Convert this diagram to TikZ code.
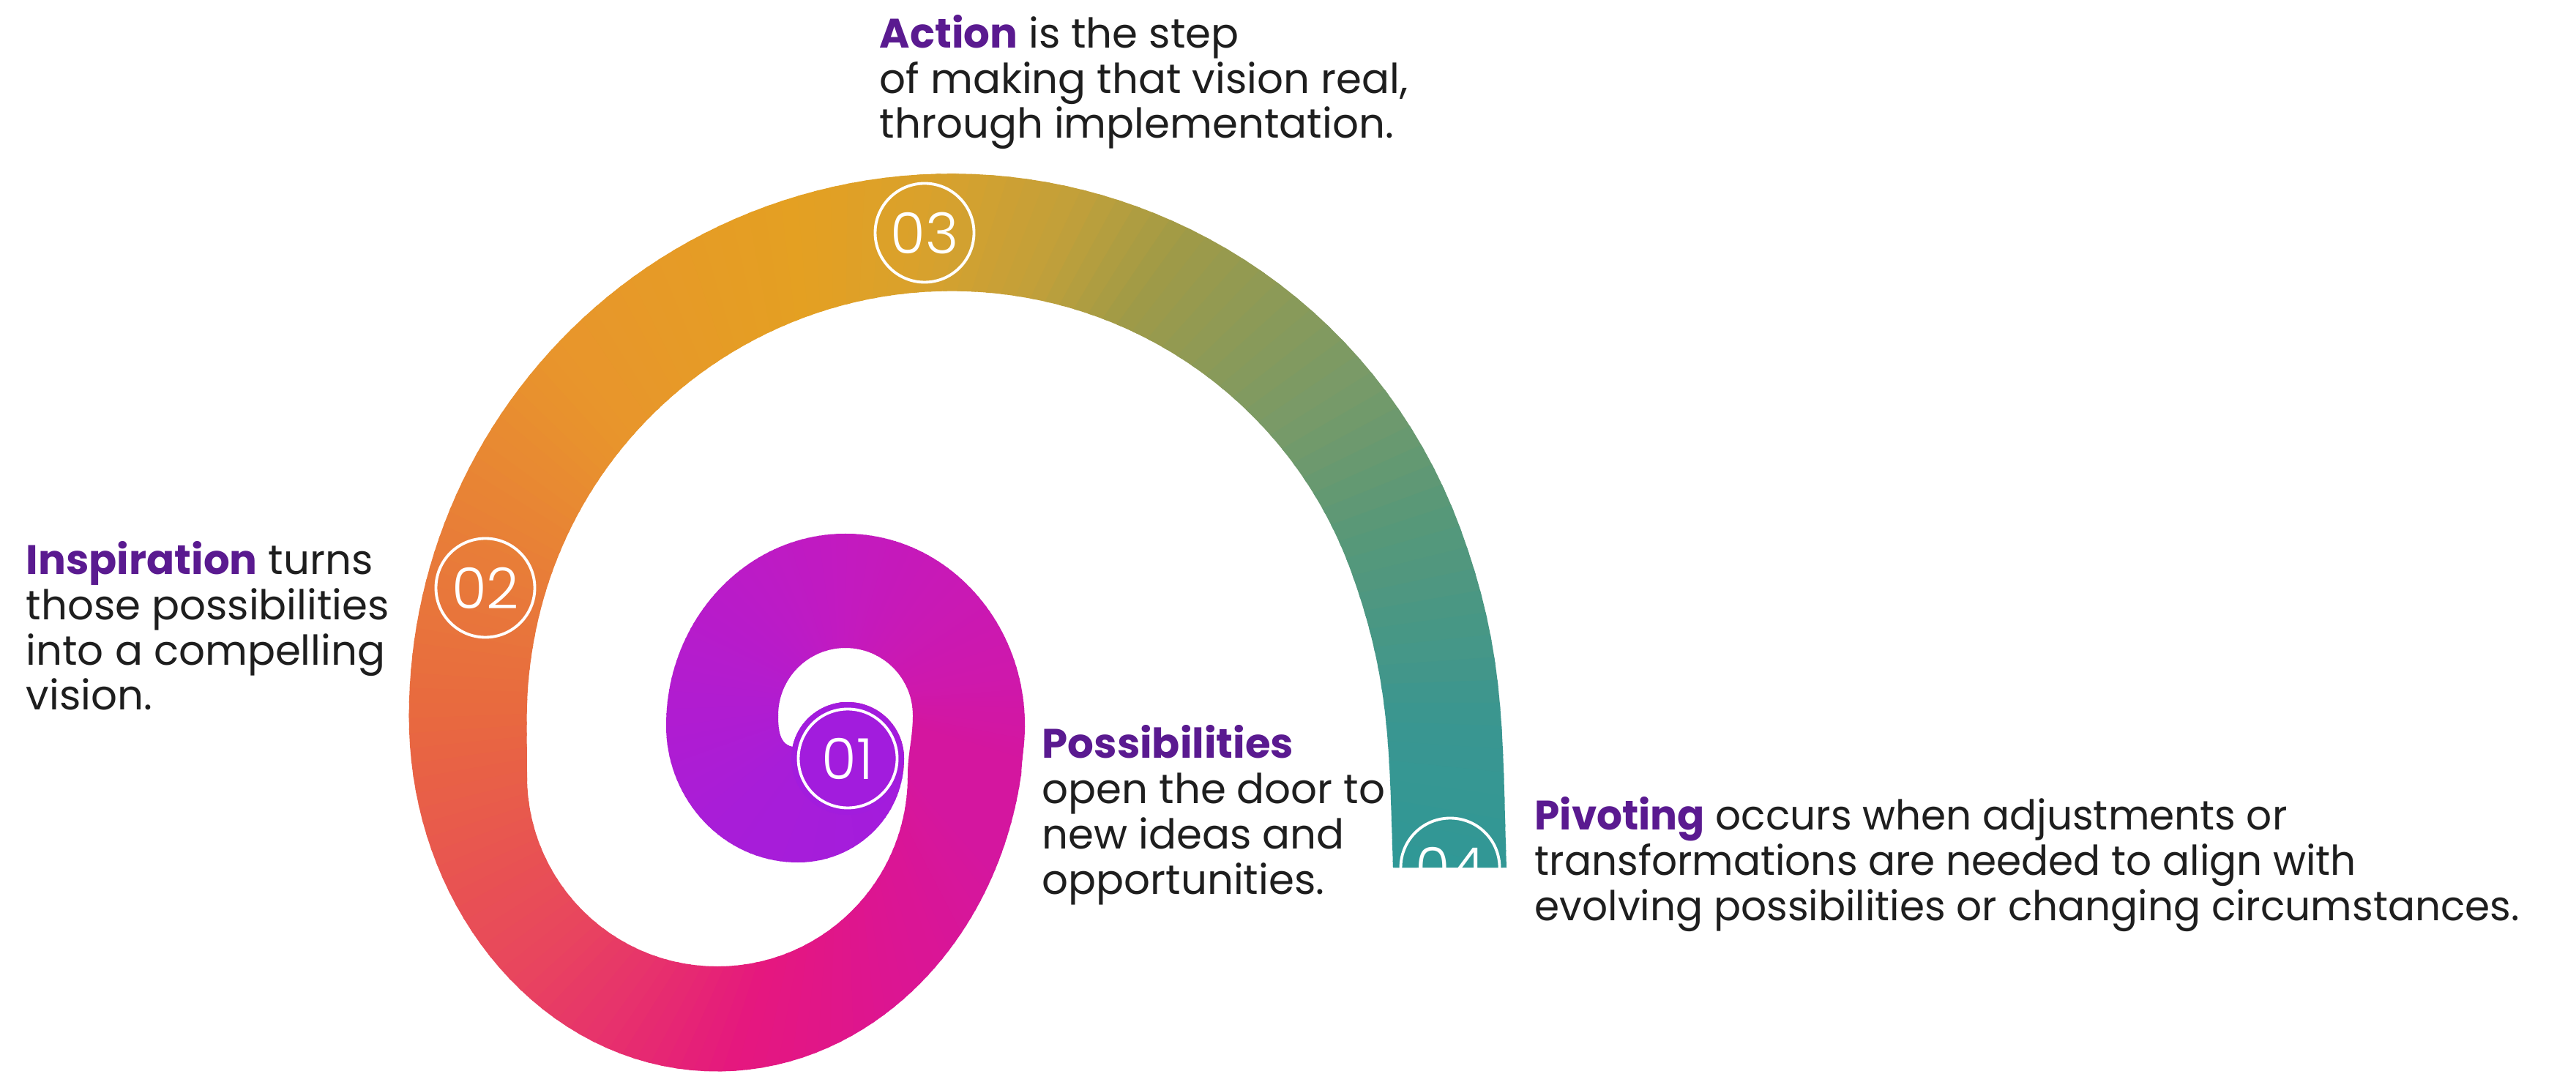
\documentclass[tikz,border=0pt]{standalone}
\usepackage{fontspec}
\setmainfont{Poppins}
\newfontfamily\numfont{Poppins Light}

\definecolor{ink}{HTML}{1E1E1E}
\definecolor{keyviolet}{HTML}{5A1A90}
% inner curl
\definecolor{violetA}{HTML}{A21CDD}
\definecolor{violetB}{HTML}{A81DD8}
\definecolor{violetC}{HTML}{B11CD0}
\definecolor{orchid}{HTML}{C21AC0}
\definecolor{mulberry}{HTML}{CE18AC}
% outer turn
\definecolor{magA}{HTML}{D4169F}
\definecolor{magB}{HTML}{DC1592}
\definecolor{pinkA}{HTML}{E5177F}
\definecolor{coral}{HTML}{E8455E}
\definecolor{orangeA}{HTML}{E8693F}
\definecolor{orangeB}{HTML}{E8793A}
\definecolor{amber}{HTML}{E8952C}
\definecolor{goldA}{HTML}{E4A022}
\definecolor{goldB}{HTML}{D9A12C}
\definecolor{khaki}{HTML}{C2A03A}
\definecolor{olive}{HTML}{A09A46}
\definecolor{sageA}{HTML}{789A68}
\definecolor{sageB}{HTML}{589878}
\definecolor{tealA}{HTML}{3A9690}
\definecolor{tealB}{HTML}{2E9898}

\tikzset{
  note/.style={anchor=base west, align=left, inner sep=0pt, text=ink,
    font=\fontsize{16}{17.6}\selectfont},
  numring/.style={circle, draw=white, line width=1.1pt, minimum size=1.35cm,
    inner sep=0pt, text=white, font=\numfont\fontsize{22}{22}\selectfont},
}
\newcommand\kw[1]{\textcolor{keyviolet}{\textbf{#1}}}
% thin wedges round (P), colour running from #3 to #4 between angles #1 and #2
\newcommand\fanfill[4]{%
  \pgfmathtruncatemacro\wN{max(1,round(abs((#2)-(#1))/2))}%
  \foreach \k in {1,...,\wN}{%
    \pgfmathsetmacro\wA{(#1)+((#2)-(#1))*(\k-1)/\wN}%
    \pgfmathsetmacro\wB{(#1)+((#2)-(#1))*\k/\wN-0.6}%
    \pgfmathsetmacro\wP{100*(\k-0.5)/\wN}%
    \fill[#4!\wP!#3] (P) -- ++(\wA:12) arc[start angle=\wA, end angle=\wB, radius=12] -- cycle;
  }}

\begin{document}
\begin{tikzpicture}
\useasboundingbox (0,0) rectangle (35.19,14.66);
\fill[white] (0,0) rectangle (35.19,14.66);
\coordinate (P) at (11.50,5.06);

% outer turn of the spiral
\begin{scope}
  \clip (12.52,4.40) -- (12.40,4.06) arc[start angle=0, end angle=-180, radius=2.6]
    to[out=90, in=-100] (7.29,5.89) arc[start angle=170, end angle=20, radius=5.80]
    to[out=-70, in=92] (19.03,2.81) -- (20.58,2.81)
    to[out=92, in=-70] (19.96,7.41) arc[start angle=20, end angle=180, radius=7.41]
    arc[start angle=180, end angle=350.3, x radius=4.21, y radius=4.85]
    -- (13.85,4.40) -- cycle;
  \fanfill{-19}{-47}{magA}{magA}
  \fanfill{-47}{-80}{magA}{magB}
  \fanfill{-80}{-106}{magB}{pinkA}
  \fanfill{-106}{-140}{pinkA}{coral}
  \fanfill{-140}{-178}{coral}{orangeA}
  \fanfill{-178}{-198}{orangeA}{orangeB}
  \fanfill{-198}{-230}{orangeB}{amber}
  \fanfill{-230}{-265}{amber}{goldA}
  \fanfill{-265}{-280}{goldA}{goldB}
  \fanfill{-280}{-295}{goldB}{khaki}
  \fanfill{-295}{-306}{khaki}{olive}
  \fanfill{-306}{-328}{olive}{sageA}
  \fanfill{-328}{-342}{sageA}{sageB}
  \fanfill{-342}{-362}{sageB}{tealA}
  \fanfill{-362}{-378}{tealA}{tealB}
\end{scope}

% inner curl
\begin{scope}
  \clip (13.95,4.06) to[out=88, in=-90] (14.00,4.75)
    arc[start angle=0, end angle=180, x radius=2.45, y radius=2.62]
    to[out=-90, in=180] (10.90,2.88) to[out=0, in=-90] (12.35,4.30)
    arc[start angle=0, end angle=168, radius=0.77]
    to[out=170, in=-90] (10.63,4.89) arc[start angle=180, end angle=0, radius=0.92]
    to[out=-90, in=90] (12.40,4.06) -- cycle;
  \fanfill{-47}{-135}{violetA}{violetB}
  \fanfill{-135}{-180}{violetB}{violetC}
  \fanfill{-180}{-270}{violetC}{orchid}
  \fanfill{-270}{-350}{orchid}{mulberry}
  \fanfill{-350}{-379}{mulberry}{magA}
  \fanfill{-379}{-408}{magA}{magA}
\end{scope}

% step numbers
\fill[violetA] (11.58,4.30) circle (0.77);
\node[numring] (n01) at (11.58,4.30) {01};
\node[numring] (n02) at (6.63,6.63) {02};
\node[numring] (n03) at (12.63,11.48) {03};
\begin{scope}
  \clip (18.6,2.81) rectangle (21.2,4.6);
  \node[numring] (n04) at (19.81,2.81) {04};
\end{scope}

% captions
\node[note] (action) at (12.01,12.77) {\kw{Action} is the step\\of making that vision real,\\through implementation.};
\node[note] (inspire) at (0.35,4.96) {\kw{Inspiration} turns\\those possibilities\\into a compelling\\vision.};
\node[note] (possib) at (14.23,2.45) {\kw{Possibilities}\\open the door to\\new ideas and\\opportunities.};
\node[note, xscale=0.976, transform shape] (pivot) at (20.96,2.09) {\kw{Pivoting} occurs when adjustments or\\transformations are needed to align with\\evolving possibilities or changing circumstances.};
\end{tikzpicture}
\end{document}
